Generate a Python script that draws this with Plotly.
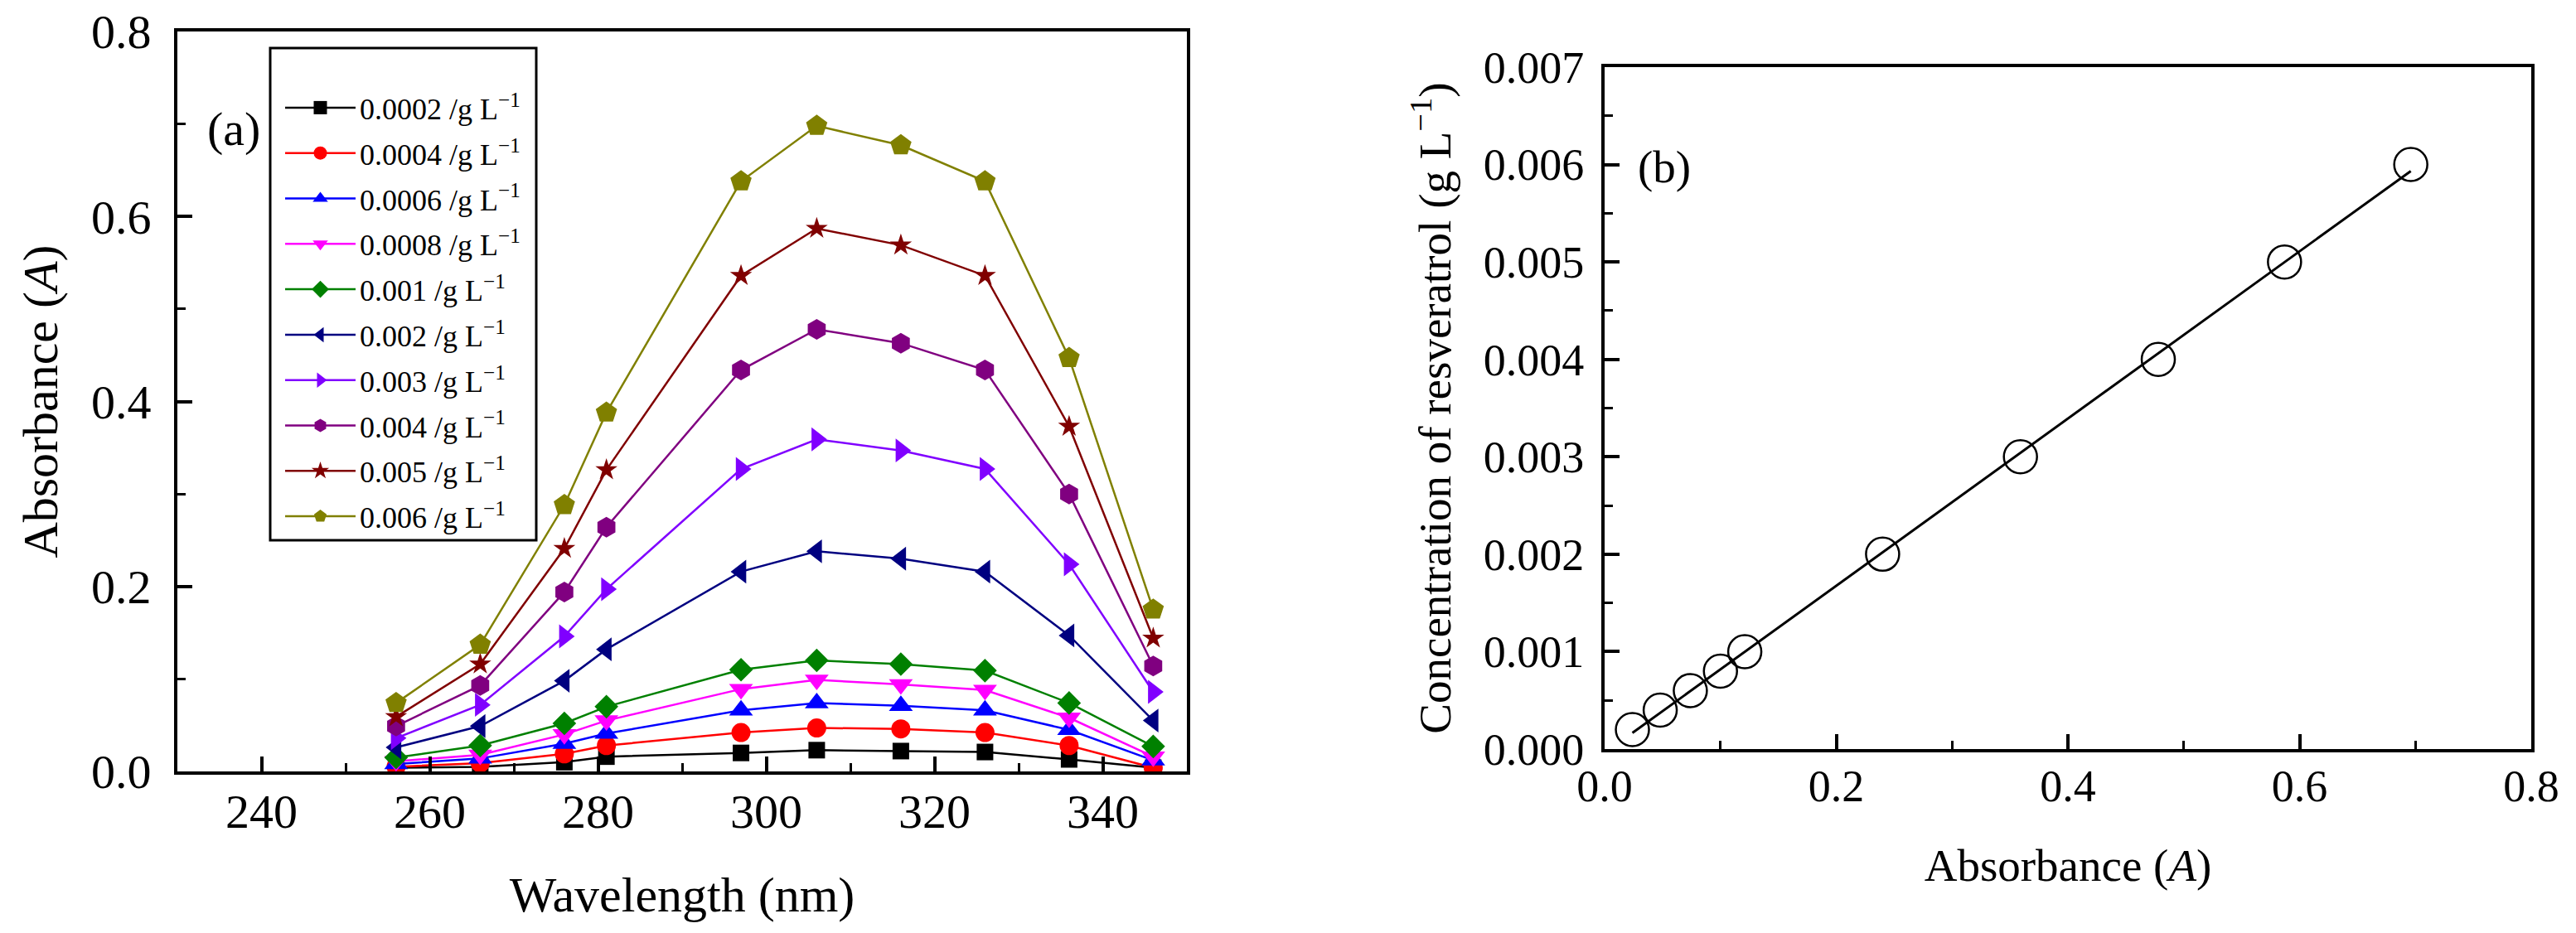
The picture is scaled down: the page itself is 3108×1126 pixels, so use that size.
import numpy as np
import plotly.graph_objects as go

# wavelengths (nm) for the spectra in panel (a)
wavelength = [256, 266, 276, 281, 297, 306, 316, 326, 336, 346]

# absorbance per concentration (g/L)
conc_labels = ["0.0002", "0.0004", "0.0006", "0.0008", "0.001",
               "0.002", "0.003", "0.004", "0.005", "0.006"]
abs_00002 = [0.004, 0.005, 0.010, 0.016, 0.020, 0.023, 0.022, 0.021, 0.013, 0.004]
abs_00004 = [0.005, 0.009, 0.019, 0.028, 0.042, 0.047, 0.046, 0.042, 0.028, 0.004]
abs_00006 = [0.008, 0.014, 0.030, 0.041, 0.066, 0.074, 0.071, 0.066, 0.045, 0.012]
abs_00008 = [0.011, 0.018, 0.040, 0.055, 0.089, 0.099, 0.094, 0.088, 0.058, 0.016]
abs_0001 = [0.015, 0.028, 0.052, 0.070, 0.110, 0.120, 0.116, 0.109, 0.074, 0.027]
abs_0002 = [0.026, 0.049, 0.098, 0.132, 0.216, 0.238, 0.230, 0.216, 0.147, 0.055]
abs_0003 = [0.036, 0.072, 0.146, 0.197, 0.327, 0.359, 0.347, 0.327, 0.224, 0.086]
abs_0004 = [0.049, 0.093, 0.194, 0.264, 0.434, 0.478, 0.463, 0.434, 0.300, 0.114]
abs_0005 = [0.059, 0.116, 0.241, 0.326, 0.536, 0.587, 0.569, 0.536, 0.373, 0.144]
abs_0006 = [0.074, 0.137, 0.288, 0.388, 0.638, 0.698, 0.677, 0.638, 0.447, 0.175]

# calibration data for panel (b)
calib_abs = [0.024, 0.048, 0.074, 0.100, 0.121, 0.240, 0.359, 0.478, 0.587, 0.696]
calib_conc = [0.0002, 0.0004, 0.0006, 0.0008, 0.001, 0.002, 0.003, 0.004, 0.005, 0.006]

spectra = [abs_00002, abs_00004, abs_00006, abs_00008, abs_0001,
           abs_0002, abs_0003, abs_0004, abs_0005, abs_0006]
colors = ["#000000", "#FF0000", "#0000FF", "#FF00FF", "#008000",
          "#000080", "#8000FF", "#800080", "#800000", "#808000"]
symbols = ["square", "circle", "triangle-up", "triangle-down", "diamond",
           "triangle-left", "triangle-right", "hexagon", "star", "pentagon"]
sizes = [20, 23, 25, 25, 22, 25, 25, 25, 20, 27]

W, H = 3108, 1126
FONT = "Times New Roman, Liberation Serif, serif"


def f(size):
    return dict(family=FONT, size=size, color="black")


fig = go.Figure()

for i, ys in enumerate(spectra):
    fig.add_trace(go.Scatter(
        x=wavelength, y=ys,
        mode="lines+markers",
        name=f"{conc_labels[i]} /g L<sup>\u22121</sup>",
        legendgroup=f"g{i}",
        line=dict(color=colors[i], width=2.5),
        marker=dict(symbol=symbols[i], size=sizes[i], color=colors[i]),
        xaxis="x", yaxis="y",
    ))

# linear fit for calibration
k, b = np.polyfit(calib_abs, calib_conc, 1)
fit_x = [min(calib_abs), max(calib_abs)]
fig.add_trace(go.Scatter(
    x=fit_x, y=[k * v + b for v in fit_x],
    mode="lines", line=dict(color="black", width=3),
    showlegend=False, xaxis="x2", yaxis="y2",
))
fig.add_trace(go.Scatter(
    x=calib_abs, y=calib_conc,
    mode="markers",
    marker=dict(symbol="circle-open", size=40, color="black", line=dict(width=2.5)),
    showlegend=False, xaxis="x2", yaxis="y2",
))

axis_common = dict(
    showline=True, linewidth=4, linecolor="black", mirror=True,
    ticks="inside", ticklen=18, tickwidth=4, tickcolor="black",
    showgrid=False, zeroline=False, automargin=False,
    ticklabeloverflow="allow",
)

fig.update_layout(
    template="none",
    width=W, height=H,
    margin=dict(l=0, r=0, t=0, b=0, autoexpand=False),
    paper_bgcolor="white", plot_bgcolor="white",
    font=f(40),
    xaxis=dict(
        domain=[206 / W, 1424 / W], range=[230, 350], dtick=20,
        minor=dict(ticks="inside", ticklen=10, tickwidth=3, dtick=10, tickcolor="black"),
        tickfont=f(58), ticklabelstandoff=-6,
        title=dict(text="Wavelength (nm)", font=f(60), standoff=48),
        anchor="y", **axis_common,
    ),
    yaxis=dict(
        domain=[1 - 923 / H, 1 - 30 / H], range=[0, 0.8], dtick=0.2, tickformat=".1f",
        minor=dict(ticks="inside", ticklen=10, tickwidth=3, dtick=0.1, tickcolor="black"),
        tickfont=f(58), ticklabelstandoff=16,
        title=dict(text="Absorbance (<i>A</i>)", font=f(60), standoff=22),
        anchor="x", **axis_common,
    ),
    xaxis2=dict(
        domain=[1928 / W, 3046 / W], range=[0, 0.8], dtick=0.2, tickformat=".1f",
        minor=dict(ticks="inside", ticklen=10, tickwidth=3, dtick=0.1, tickcolor="black"),
        tickfont=f(54), ticklabelstandoff=-6,
        title=dict(text="Absorbance (<i>A</i>)", font=f(55), standoff=48),
        anchor="y2", **axis_common,
    ),
    yaxis2=dict(
        domain=[1 - 896 / H, 1 - 73 / H], range=[0, 0.007], dtick=0.001, tickformat=".3f",
        minor=dict(ticks="inside", ticklen=10, tickwidth=3, dtick=0.0005, tickcolor="black"),
        tickfont=f(54), ticklabelstandoff=10,
        title=dict(text="Concentration of resveratrol (g L<sup>\u22121</sup>)",
                   font=f(55), standoff=22),
        anchor="x2", **axis_common,
    ),
    legend=dict(
        x=331 / W, y=1 - 92 / H, xanchor="left", yanchor="top",
        bgcolor="rgba(0,0,0,0)", borderwidth=0,
        font=f(36),
        itemwidth=85, tracegroupgap=5, traceorder="grouped",
    ),
    shapes=[dict(
        type="rect", xref="paper", yref="paper",
        x0=318 / W, x1=639 / W, y0=1 - 644 / H, y1=1 - 50 / H,
        line=dict(color="black", width=3), fillcolor="rgba(0,0,0,0)",
    )],
    annotations=[
        dict(text="(a)", x=274 / W, y=1 - 147 / H, xref="paper", yref="paper",
             xanchor="center", yanchor="middle", showarrow=False, font=f(58)),
        dict(text="(b)", x=2000 / W, y=1 - 193 / H, xref="paper", yref="paper",
             xanchor="center", yanchor="middle", showarrow=False, font=f(55)),
    ],
)

fig.write_html("out.html")
